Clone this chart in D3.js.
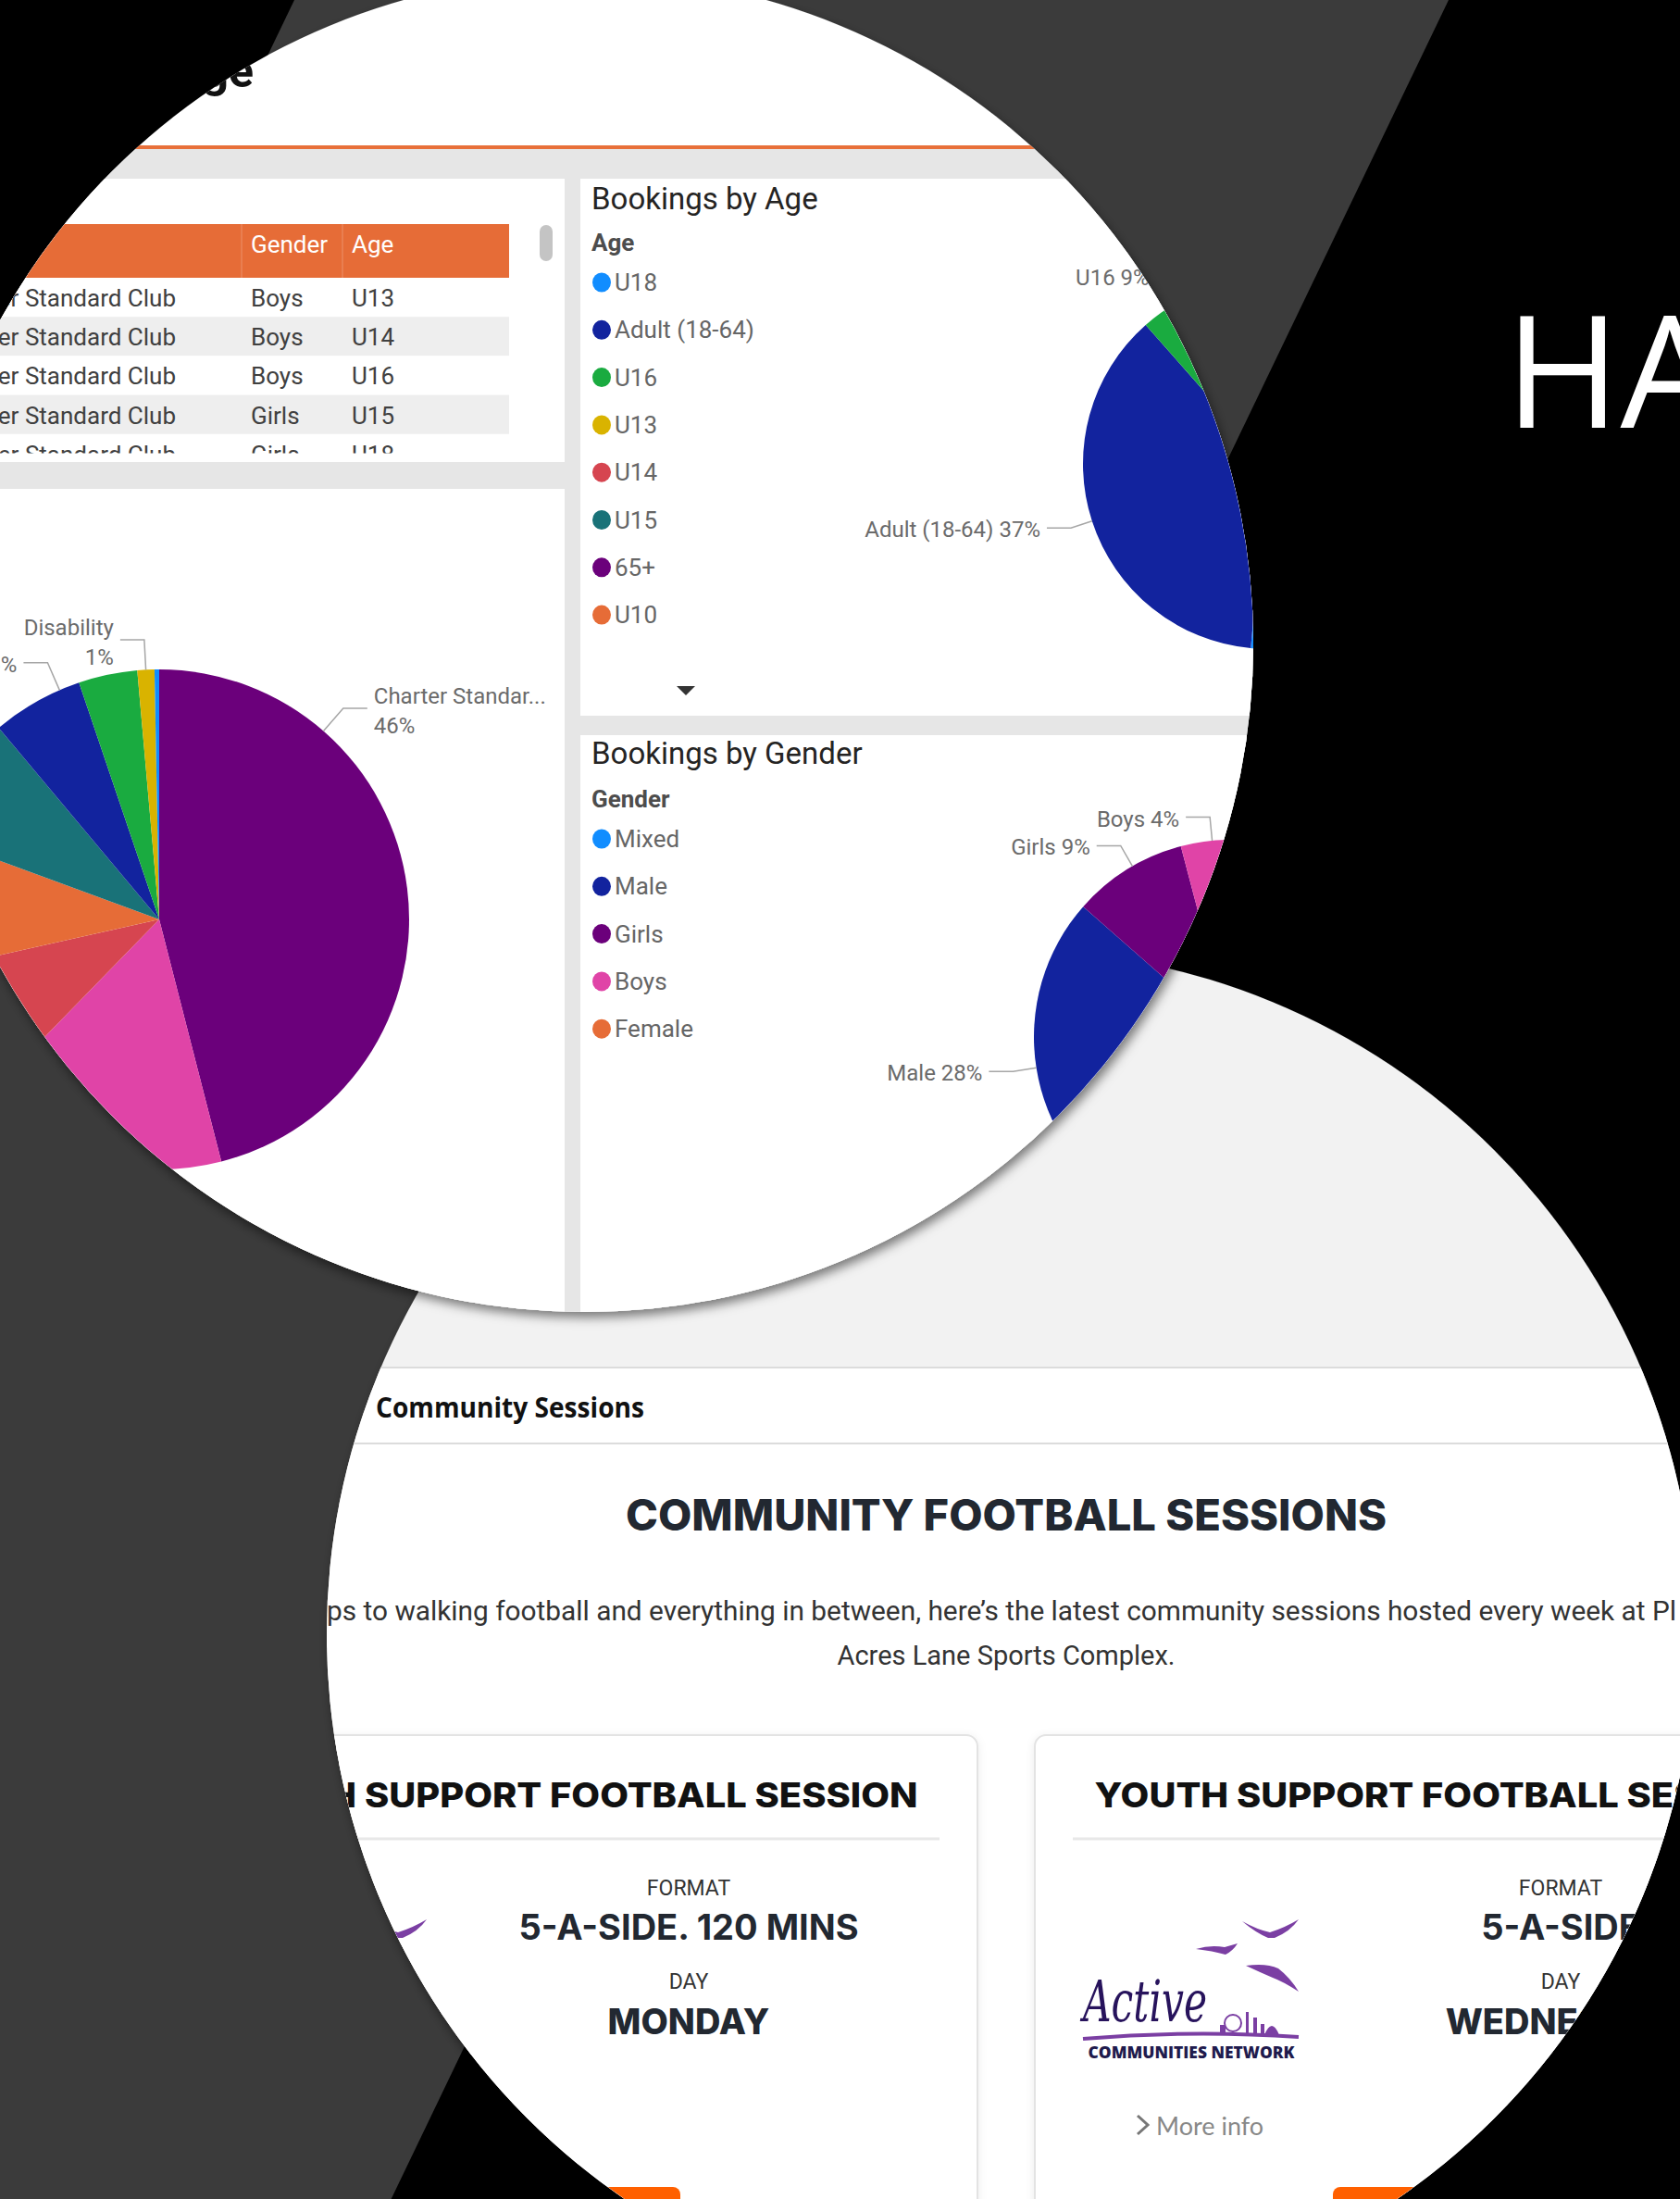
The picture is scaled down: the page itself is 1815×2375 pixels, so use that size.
<!DOCTYPE html>
<html>
<head>
<meta charset="utf-8">
<title>Bookings dashboard and community sessions</title>
<script src="https://cdn.jsdelivr.net/npm/d3@7/dist/d3.min.js"></script>
<style>
  html, body { margin: 0; padding: 0; background: #000; }
  svg { display: block; }
  text { font-family: Roboto, "Noto Sans", sans-serif; }
</style>
</head>
<body>
<div id="chart"></div>
<script>
// ---- data ----
const clubTypes = ["Charter Standard Club", "Grassroots Club", "School", "Community Group", "Private Hire",
    "Walking Football", "Youth Support", "Disability", "Corporate"];
const clubTypeShare = [46, 16.3, 9.2, 9.1, 8.3, 5.9, 3.8, 1.1, 0.3];

const ageGroups = ["U18", "Adult (18-64)", "U16", "U13", "U14", "U15", "65+", "U10"];
const ageShare = [51.5, 37, 9, 1.2, 0.6, 0.4, 0.2, 0.1];

const genders = ["Mixed", "Male", "Girls", "Boys", "Female"];
const genderShare = [58.5, 28, 9.4, 3.8, 0.3];

const tableHeaders = ["Club Type", "Gender", "Age"];
const tableClub = ["Charter Standard Club", "Charter Standard Club", "Charter Standard Club",
    "Charter Standard Club", "Charter Standard Club"];
const tableGender = ["Boys", "Boys", "Boys", "Girls", "Girls"];
const tableAge = ["U13", "U14", "U16", "U15", "U18"];

const sessionTitles = ["YOUTH SUPPORT FOOTBALL SESSION", "YOUTH SUPPORT FOOTBALL SESSION"];
const sessionFormats = ["5-A-SIDE. 120 MINS", "5-A-SIDE"];
const sessionDays = ["MONDAY", "WEDNESDAY"];

// ---- styles ----
const pbi = {
    lightBlue: "#118DFF", navy: "#12239E", orange: "#E66C37", purple: "#6B007B", pink: "#E044A7",
    yellow: "#D9B300", red: "#D64550", teal: "#197278", green: "#1AAB40"
};
const clubColors = d3.scaleOrdinal().domain(clubTypes)
    .range([pbi.purple, pbi.pink, pbi.red, pbi.orange, pbi.teal, pbi.navy, pbi.green, pbi.yellow, pbi.lightBlue]);
const ageColors = d3.scaleOrdinal().domain(ageGroups)
    .range([pbi.lightBlue, pbi.navy, pbi.green, pbi.yellow, pbi.red, pbi.teal, pbi.purple, pbi.orange]);
const genderColors = d3.scaleOrdinal().domain(genders)
    .range([pbi.lightBlue, pbi.navy, pbi.purple, pbi.pink, pbi.orange]);

const W = 1815, H = 2375;
const topDisc = { x: 632, y: 695, r: 722 };
const botDisc = { x: 1092, y: 1765, r: 739 };

const svg = d3.select("#chart").append("svg").attr("width", W).attr("height", H);
const defs = svg.append("defs");

function shadow(id, dx, dy, sd, op) {
    defs.append("filter").attr("id", id)
        .attr("x", "-20%").attr("y", "-20%").attr("width", "140%").attr("height", "140%")
        .append("feDropShadow")
        .attr("dx", dx).attr("dy", dy).attr("stdDeviation", sd)
        .attr("flood-color", "#000").attr("flood-opacity", op);
}
shadow("discShadow", 3, 6, 6, 0.5);
shadow("cardShadow", 0, 2, 5, 0.08);

defs.append("clipPath").attr("id", "topClip").append("circle")
    .attr("cx", topDisc.x).attr("cy", topDisc.y).attr("r", topDisc.r);
defs.append("clipPath").attr("id", "botClip").append("circle")
    .attr("cx", botDisc.x).attr("cy", botDisc.y).attr("r", botDisc.r);
defs.append("clipPath").attr("id", "rowClip").append("rect")
    .attr("x", -100).attr("y", 300).attr("width", 700).attr("height", 189.5);

// background and diagonal band
svg.append("rect").attr("width", W).attr("height", H).attr("fill", "#000");
const slope = 0.481;
svg.append("polygon")
    .attr("points", [[318, 0], [1565, 0], [1565 - slope * H, H], [0, H], [0, 318 / slope]].map(p => p.join(",")).join(" "))
    .attr("fill", "#3b3b3b");
svg.append("text")
    .attr("x", 1626).attr("y", 462)
    .style("font-family", "'Open Sans', sans-serif")
    .attr("font-size", 169).attr("fill", "#fff")
    .text("HA");

// ===== bottom disc: community sessions web page =====
svg.append("circle").attr("cx", botDisc.x).attr("cy", botDisc.y).attr("r", botDisc.r)
    .attr("fill", "#f2f2f2").attr("filter", "url(#discShadow)");
const web = svg.append("g").attr("clip-path", "url(#botClip)");

web.append("rect").attr("x", 0).attr("y", 1477).attr("width", W).attr("height", H - 1477).attr("fill", "#fff");
web.selectAll("line.rule").data([1477, 1559]).join("line")
    .attr("x1", 0).attr("x2", W).attr("y1", d => d).attr("y2", d => d)
    .attr("stroke", "#dcdcdc").attr("stroke-width", 2);

web.append("text")
    .attr("x", 406).attr("y", 1519).attr("dominant-baseline", "central")
    .style("font-family", "'Open Sans', sans-serif").attr("font-weight", 700).attr("font-size", 30)
    .attr("textLength", 290).attr("lengthAdjust", "spacingAndGlyphs")
    .attr("fill", "#111").text("Community Sessions");

web.append("text")
    .attr("x", 1087).attr("y", 1636).attr("text-anchor", "middle").attr("dominant-baseline", "central")
    .style("font-family", "Inter, sans-serif").attr("font-weight", 800).attr("font-size", 46)
    .attr("textLength", 822).attr("lengthAdjust", "spacingAndGlyphs")
    .attr("fill", "#222831").text("COMMUNITY FOOTBALL SESSIONS");

const para = web.append("g").style("font-family", "Lato, sans-serif").attr("font-size", 30).attr("fill", "#333");
para.append("text")
    .attr("x", 353).attr("y", 1739).attr("dominant-baseline", "central")
    .attr("textLength", 1458).attr("lengthAdjust", "spacingAndGlyphs")
    .text("ps to walking football and everything in between, here\u2019s the latest community sessions hosted every week at Pl");
para.append("text")
    .attr("x", 1087).attr("y", 1787).attr("text-anchor", "middle").attr("dominant-baseline", "central")
    .attr("textLength", 365).attr("lengthAdjust", "spacingAndGlyphs")
    .text("Acres Lane Sports Complex.");

// session cards
const cardX = [176, 1118];
const cards = web.selectAll("g.card").data(cardX.map((x, i) => ({ x, i }))).join("g")
    .attr("class", "card")
    .attr("transform", d => `translate(${d.x},1874)`);

cards.append("rect").attr("width", 880).attr("height", 700).attr("rx", 12)
    .attr("fill", "#fff").attr("stroke", "#e3e3e3").attr("stroke-width", 2)
    .attr("filter", "url(#cardShadow)");

cards.append("text")
    .attr("x", 440).attr("y", 64).attr("text-anchor", "middle").attr("dominant-baseline", "central")
    .style("font-family", "Inter, sans-serif").attr("font-weight", 800).attr("font-size", 37)
    .attr("textLength", 751).attr("lengthAdjust", "spacingAndGlyphs")
    .attr("fill", "#111").text(d => sessionTitles[d.i]);

cards.append("line").attr("x1", 41).attr("x2", 839).attr("y1", 112).attr("y2", 112)
    .attr("stroke", "#e8e8e8").attr("stroke-width", 3);

const info = cards.append("g").attr("text-anchor", "middle").attr("fill", "#222831");
info.append("text").attr("x", 568).attr("y", 165).attr("dominant-baseline", "central")
    .style("font-family", "Roboto, sans-serif").attr("font-size", 23).attr("fill", "#333")
    .text("FORMAT");
info.append("text").attr("x", 568).attr("y", 207).attr("dominant-baseline", "central")
    .style("font-family", "Inter, sans-serif").attr("font-weight", 700).attr("font-size", 38)
    .text(d => sessionFormats[d.i]);
info.append("text").attr("x", 568).attr("y", 266).attr("dominant-baseline", "central")
    .style("font-family", "Roboto, sans-serif").attr("font-size", 23).attr("fill", "#333")
    .text("DAY");
info.append("text").attr("x", 568).attr("y", 309).attr("dominant-baseline", "central")
    .style("font-family", "Inter, sans-serif").attr("font-weight", 800).attr("font-size", 38)
    .text(d => sessionDays[d.i]);

// partner logo
const logo = cards.append("g");
const logoPurple = "#7b3fa3";
logo.selectAll("path.bird").data([
    "M224,201 Q240,210 254,213 Q270,208 285,199 Q276,212 259,219 L252,219 Q238,213 224,201 Z",
    "M174,231 Q190,226 205,229 L219,225 Q214,233 206,237 Q192,233 174,231 Z",
    "M228,249 Q250,246 263,252 Q276,262 285,277 Q268,266 257,262 Q243,256 228,249 Z"
]).join("path").attr("d", d => d).attr("fill", logoPurple);
logo.append("text").attr("x", 52).attr("y", 309)
    .style("font-family", "'DejaVu Serif', serif").attr("font-style", "italic").attr("font-size", 62)
    .attr("textLength", 134).attr("lengthAdjust", "spacingAndGlyphs")
    .attr("fill", "#27135c").text("Active");
logo.append("path").attr("d", "M52,328 Q170,318 285,326")
    .attr("fill", "none").attr("stroke", logoPurple).attr("stroke-width", 4);
logo.append("circle").attr("cx", 214).attr("cy", 311).attr("r", 9)
    .attr("fill", "none").attr("stroke", logoPurple).attr("stroke-width", 2);
logo.selectAll("rect.tower").data([[200, 313, 6, 11], [228, 299, 3, 24], [236, 305, 4, 18], [244, 312, 4, 11]])
    .join("rect").attr("x", d => d[0]).attr("y", d => d[1]).attr("width", d => d[2]).attr("height", d => d[3])
    .attr("fill", logoPurple);
logo.append("path").attr("d", "M248,324 Q256,304 264,324 Z").attr("fill", logoPurple);
logo.append("text").attr("x", 169).attr("y", 342).attr("text-anchor", "middle").attr("dominant-baseline", "central")
    .style("font-family", "'Open Sans', sans-serif").attr("font-weight", 800).attr("font-size", 18)
    .attr("textLength", 223).attr("lengthAdjust", "spacingAndGlyphs")
    .attr("fill", "#1f1b4d").text("COMMUNITIES NETWORK");

cards.append("path").attr("d", "M111,411 L122,421 L111,431")
    .attr("fill", "none").attr("stroke", "#777").attr("stroke-width", 3);
cards.append("text").attr("x", 131).attr("y", 421).attr("dominant-baseline", "central")
    .style("font-family", "Lato, sans-serif").attr("font-size", 27).attr("fill", "#888")
    .text("More info");
cards.append("rect").attr("x", 322).attr("y", 488).attr("width", 237).attr("height", 60).attr("rx", 8)
    .attr("fill", "#ff6000");

// ===== top disc: Power BI report =====
svg.append("circle").attr("cx", topDisc.x).attr("cy", topDisc.y).attr("r", topDisc.r)
    .attr("fill", "#fff").attr("filter", "url(#discShadow)");
const bi = svg.append("g").attr("clip-path", "url(#topClip)");

bi.append("text").attr("x", 274).attr("y", 94).attr("text-anchor", "end")
    .attr("font-size", 50).attr("font-weight", 700).attr("fill", "#111").text("Usage");
bi.append("rect").attr("x", 0).attr("y", 157).attr("width", W).attr("height", 4).attr("fill", "#e8703a");
bi.append("rect").attr("x", 0).attr("y", 161).attr("width", W).attr("height", H).attr("fill", "#e6e6e6");

const panels = [
    { x: -100, y: 193, w: 710, h: 306 },
    { x: -100, y: 528, w: 710, h: 1000 },
    { x: 627, y: 193, w: 900, h: 580 },
    { x: 627, y: 794, w: 900, h: 800 }
];
bi.selectAll("rect.panel").data(panels).join("rect")
    .attr("x", d => d.x).attr("y", d => d.y).attr("width", d => d.w).attr("height", d => d.h)
    .attr("fill", "#fff");

// table
const tbl = bi.append("g").attr("font-size", 26);
tbl.append("rect").attr("x", -100).attr("y", 242).attr("width", 650).attr("height", 58).attr("fill", "#e66c37");
tbl.selectAll("line.sep").data([261, 370]).join("line")
    .attr("x1", d => d).attr("x2", d => d).attr("y1", 242).attr("y2", 300)
    .attr("stroke", "#fff").attr("stroke-opacity", 0.25);
const colX = [-70, 271, 380];
tbl.selectAll("text.head").data(tableHeaders).join("text")
    .attr("x", (d, i) => colX[i]).attr("y", 264).attr("dominant-baseline", "central")
    .attr("fill", "#fff").text(d => d);

const rowH = 42.2;
const rows = tbl.append("g").attr("clip-path", "url(#rowClip)");
const row = rows.selectAll("g.row").data(tableAge).join("g")
    .attr("transform", (d, i) => `translate(0,${300 + i * rowH})`);
row.append("rect").attr("x", -100).attr("width", 650).attr("height", rowH)
    .attr("fill", (d, i) => i % 2 ? "#eeeeee" : "#fff");
row.append("text").attr("x", 190).attr("y", 22).attr("text-anchor", "end").attr("dominant-baseline", "central")
    .attr("fill", "#404040").text((d, i) => tableClub[i]);
row.append("text").attr("x", colX[1]).attr("y", 22).attr("dominant-baseline", "central")
    .attr("fill", "#404040").text((d, i) => tableGender[i]);
row.append("text").attr("x", colX[2]).attr("y", 22).attr("dominant-baseline", "central")
    .attr("fill", "#404040").text(d => d);
tbl.append("rect").attr("x", 583).attr("y", 243).attr("width", 14).attr("height", 39).attr("rx", 7)
    .attr("fill", "#c4c4c4");

// pies
function drawPie(cats, vals, colors, cx, cy, r, labels) {
    const total = d3.sum(vals);
    const pie = d3.pie().sort(null).value(d => d.v);
    const data = pie(cats.map((c, i) => ({ c, v: vals[i] })));
    const arc = d3.arc().innerRadius(0).outerRadius(r);
    const g = bi.append("g").attr("transform", `translate(${cx},${cy})`);
    g.selectAll("path").data(data).join("path")
        .attr("d", arc)
        .attr("fill", d => colors(d.data.c));

    data.filter(d => labels[d.data.c]).forEach(d => {
        const spec = labels[d.data.c];
        const a = spec.angle != null ? spec.angle * Math.PI / 180 : (d.startAngle + d.endAngle) / 2;
        const side = Math.sin(a) >= 0 ? 1 : -1;
        const p0 = [Math.sin(a) * r, -Math.cos(a) * r];
        const p1 = [Math.sin(a) * r * 1.12, -Math.cos(a) * r * 1.12];
        const p2 = [p1[0] + side * 26, p1[1]];
        g.append("polyline")
            .attr("points", [p0, p1, p2].map(p => p.join(",")).join(" "))
            .attr("fill", "none").attr("stroke", "#a6a6a6").attr("stroke-width", 1.5);

        const pct = Math.round(d.data.v / total * 100) + "%";
        const name = d.data.c.length > 15 ? d.data.c.slice(0, 15) + "..." : d.data.c;
        const lines = spec.wrap ? [name, pct] : [name + " " + pct];
        const tx = p2[0] + side * 7;
        const t = g.append("text")
            .attr("text-anchor", side > 0 ? "start" : "end")
            .attr("dominant-baseline", "central")
            .attr("font-size", 24).attr("fill", "#6b6b6b");
        lines.forEach((l, i) => {
            const y = lines.length === 1 ? p2[1] + 2 : p2[1] + 3 + (i - 0.5) * 31.5;
            t.append("tspan").attr("x", tx).attr("y", y).text(l);
        });
    });
}

drawPie(clubTypes, clubTypeShare, clubColors, 172, 993, 270, {
    "Charter Standard Club": { angle: 41.1, wrap: true },
    "Walking Football": { angle: 336.5 },
    "Disability": { wrap: true }
});
drawPie(ageGroups, ageShare, ageColors, 1370, 501, 200, {
    "Adult (18-64)": {},
    "U16": {}
});
drawPie(genders, genderShare, genderColors, 1330, 1120, 213, {
    "Male": {},
    "Girls": { angle: 330 },
    "Boys": { angle: 354.5 }
});

// panel titles and legends
function legend(title, legendTitle, cats, colors, yTitle, yLegend, y0) {
    const g = bi.append("g");
    g.append("text").attr("x", 639).attr("y", yTitle).attr("dominant-baseline", "central")
        .attr("font-size", 33).attr("fill", "#252423").text(title);
    g.append("text").attr("x", 639).attr("y", yLegend).attr("dominant-baseline", "central")
        .attr("font-size", 26).attr("font-weight", 700).attr("fill", "#4d4d4d").text(legendTitle);
    const item = g.selectAll("g.item").data(cats).join("g")
        .attr("transform", (d, i) => `translate(0,${y0 + i * 51.3})`);
    item.append("ellipse").attr("cx", 650).attr("rx", 10).attr("ry", 10.5).attr("fill", d => colors(d));
    item.append("text").attr("x", 664).attr("dominant-baseline", "central")
        .attr("font-size", 26).attr("fill", "#666").text(d => d);
}
legend("Bookings by Age", "Age", ageGroups, ageColors, 214, 262, 305);
legend("Bookings by Gender", "Gender", genders, genderColors, 813, 863, 906);

bi.append("path").attr("d", "M731,741 L751,741 L741,751 Z").attr("fill", "#333");
</script>
</body>
</html>
